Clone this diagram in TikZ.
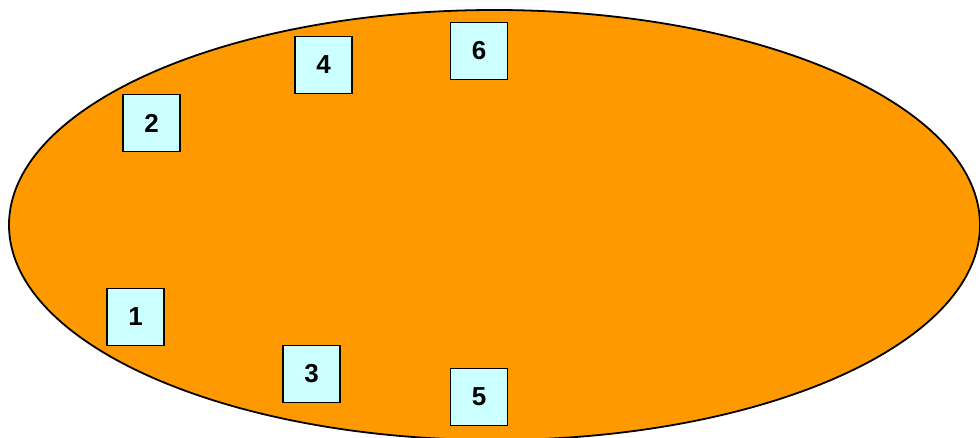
\documentclass[tikz,border=0pt]{standalone}
\usepackage{fontspec}
\setmainfont{Liberation Sans}
\usetikzlibrary{shapes.geometric}
\definecolor{orng}{HTML}{FF9900}
\definecolor{cyanbox}{HTML}{CCFFFF}
\begin{document}
\begin{tikzpicture}[x=1pt,y=-1pt,
  numbox/.style={draw=black,line width=1.8pt,fill=cyanbox,minimum width=57pt,minimum height=57pt,inner sep=0pt,font=\fontsize{26}{30}\selectfont\bfseries}]
\useasboundingbox (0,0) rectangle (980,437);
\begin{scope}
\clip (0,0) rectangle (980,437);
\node[draw=black,line width=1.8pt,fill=orng,ellipse,minimum width=971pt,minimum height=430pt,inner sep=0pt] (ell) at (494.5,225) {};
\end{scope}
\node[numbox] (n1) at (135.5,317) {1};
\node[numbox] (n2) at (151.5,123) {2};
\node[numbox] (n3) at (311.5,374) {3};
\node[numbox] (n4) at (323.5,65) {4};
\node[numbox] (n5) at (479,397) {5};
\node[numbox] (n6) at (479,51) {6};
\end{tikzpicture}
\end{document}
